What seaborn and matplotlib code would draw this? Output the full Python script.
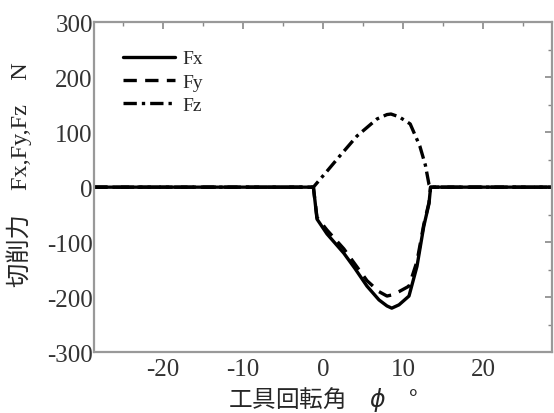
import numpy as np
import pandas as pd
import seaborn as sns
import matplotlib.pyplot as plt
from matplotlib.ticker import MultipleLocator

# tool rotation angle (deg) and cutting forces (N)
phi_x = [-28.6, -1.2, -1.0, -0.75, 0.5, 2.6, 4.0, 5.5, 7.0, 8.0, 8.6, 9.5, 10.75, 11.75, 12.6, 13.25, 13.45, 28.6]
fx = [0, 0, -25, -58, -85, -120, -148, -180, -205, -216, -220, -214, -198, -144, -71, -30, 0, 0]

phi_y = [-28.6, -1.2, -1.0, -0.75, 0.5, 2.6, 4.0, 5.5, 7.0, 8.0, 8.6, 9.5, 10.75, 11.75, 12.6, 13.25, 13.45, 28.6]
fy = [0, 0, -25, -55, -78, -112, -140, -170, -190, -198, -196, -190, -180, -135, -68, -28, 0, 0]

phi_z = [-28.6, -1.2, -0.5, 0.5, 2.0, 4.25, 6.75, 8.0, 8.5, 9.5, 10.9, 12.1, 12.8, 13.25, 13.45, 28.6]
fz = [0, 0, 12, 29, 55, 93, 124, 132, 133, 128, 115, 75, 40, 5, 0, 0]

sns.set_theme(style="white")
plt.rcParams['font.family'] = ['Liberation Serif', 'Noto Sans CJK JP']
plt.rcParams['axes.unicode_minus'] = False

fig = plt.figure(figsize=(5.54, 4.14), dpi=100)
ax = fig.add_axes([0.170, 0.147, 0.826, 0.797])

sns.lineplot(x=phi_x, y=fx, ax=ax, color="black", lw=2.4, label="Fx")
sns.lineplot(x=phi_y, y=fy, ax=ax, color="black", lw=2.4, label="Fy",
             linestyle=(0, (4, 2.5)))
sns.lineplot(x=phi_z, y=fz, ax=ax, color="black", lw=2.4, label="Fz",
             linestyle=(0, (4, 1.5, 1, 1.5)))

ax.set_xlim(-28.6, 28.6)
ax.set_ylim(-300, 300)
ax.xaxis.set_major_locator(MultipleLocator(10))
ax.xaxis.set_minor_locator(MultipleLocator(5))
ax.yaxis.set_major_locator(MultipleLocator(100))
ax.yaxis.set_minor_locator(MultipleLocator(50))
ax.tick_params(which="both", direction="in", top=True, right=True,
               color="#888888", labelsize=18, pad=1)
ax.tick_params(axis="x", pad=4)
ax.tick_params(which="major", length=5, width=1.2)
ax.tick_params(which="minor", length=3, width=1.0)
for s in ax.spines.values():
    s.set_color("#999999")
    s.set_linewidth(1.6)
for lbl in ax.get_xticklabels() + ax.get_yticklabels():
    lbl.set_color("#333333")

ax.set_xlabel("工具回転角　$\\phi$　°", fontsize=17,
              family=["Noto Sans CJK JP", "DejaVu Sans"], labelpad=3)
ax.set_ylabel("切削力　Fx,Fy,Fz　N", fontsize=17.5,
              family=["Liberation Serif", "Noto Sans CJK JP"])
ax.yaxis.set_label_coords(-0.135, 0.54)

leg = ax.legend(loc="upper left", bbox_to_anchor=(0.045, 0.94), frameon=False,
                fontsize=14, handlelength=2.7, labelspacing=0.3,
                borderaxespad=0.0, handletextpad=0.4)

fig.savefig("out.png", dpi=100)
